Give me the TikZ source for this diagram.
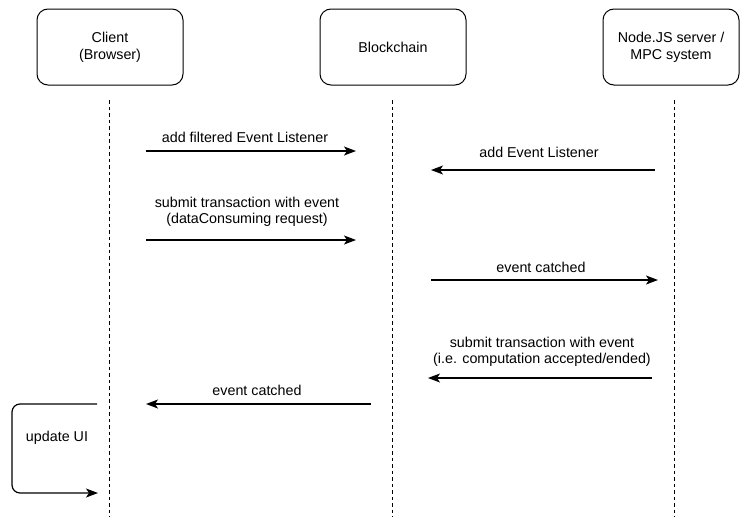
\documentclass[tikz,border=0pt]{standalone}
\usepackage{fontspec}
\setmainfont{Liberation Sans}
\usetikzlibrary{arrows.meta}
\begin{document}
\begin{tikzpicture}[x=1pt,y=-1pt,
  actor/.style={draw, rounded corners=11pt, line width=1pt, minimum width=146pt, minimum height=76pt, align=center, font=\fontsize{14.3}{17}\selectfont, inner sep=0pt},
  life/.style={line width=1.1pt, dash pattern=on 3.5pt off 3pt},
  msg/.style={line width=1.2pt, -{Stealth[length=12pt,width=9pt,inset=3pt]}},
  lbl/.style={align=center, font=\fontsize{14.3}{16.5}\selectfont, inner sep=0pt}]
\useasboundingbox (0,0) rectangle (740,517);
% actors
\node[actor] (client) at (110,47) {Client\\(Browser)};
\node[actor] (chain) at (393,47) {Blockchain};
\node[actor, minimum width=136pt] (server) at (671,47) {Node.JS server /\\MPC system};
% lifelines
\coordinate (c0) at (109.5,100); \coordinate (c1) at (109.5,517);
\coordinate (b0) at (392.5,100); \coordinate (b1) at (392.5,517);
\coordinate (s0) at (674.5,100); \coordinate (s1) at (674.5,517);
\draw[life] (c0) -- (c1);
\draw[life] (b0) -- (b1);
\draw[life] (s0) -- (s1);
% message endpoints
\coordinate (m1a) at (146,151); \coordinate (m1b) at (356,151);
\coordinate (m2a) at (655,170); \coordinate (m2b) at (431,170);
\coordinate (m3a) at (146,240); \coordinate (m3b) at (356,240);
\coordinate (m4a) at (431,280); \coordinate (m4b) at (658,280);
\coordinate (m5a) at (652,378); \coordinate (m5b) at (428,378);
\coordinate (m6a) at (371,404); \coordinate (m6b) at (146,404);
\coordinate (u0) at (97,404); \coordinate (u1) at (12,404); \coordinate (u2) at (12,493); \coordinate (u3) at (98,493);
% messages
\draw[msg] (m1a) -- (m1b);
\node[lbl] (l1) at (245,137) {add filtered Event Listener};
\draw[msg] (m2a) -- (m2b);
\node[lbl] (l2) at (539,152) {add Event Listener};
\draw[msg] (m3a) -- (m3b);
\node[lbl] (l3) at (247,212) {submit transaction with event\\(dataConsuming request)};
\draw[msg] (m4a) -- (m4b);
\node[lbl] (l4) at (541,267) {event catched};
\draw[msg] (m5a) -- (m5b);
\node[lbl] (l5) at (542,352) {submit transaction with event\\(i.e. computation accepted/ended)};
\draw[msg] (m6a) -- (m6b);
\node[lbl] (l6) at (257,390) {event catched};
\draw[msg, rounded corners=8pt] (u0) -- (u1) -- (u2) -- (u3);
\node[lbl] (l7) at (57,438) {update UI};
\end{tikzpicture}
\end{document}
